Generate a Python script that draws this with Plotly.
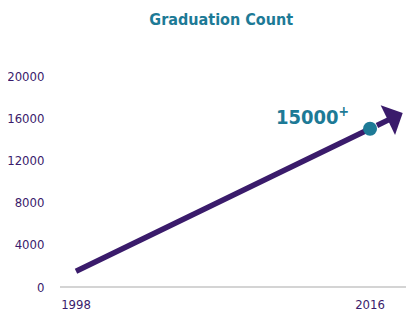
import plotly.graph_objects as go

years = [1998, 2016]
counts = [1500, 15000]
arrow_tip_year = 2018
arrow_tip_count = 16500
y_ticks = [0, 4000, 8000, 12000, 16000, 20000]
y_tick_text = ["0", "4000", "8000", "12000", "16000", "20000"]
x_ticks = [1998, 2016]
label_text = "15000<sup>+</sup>"

PURPLE = "#3a1b6b"
TEAL = "#1d7a96"
FONT = "DejaVu Sans Condensed, Liberation Sans Narrow, Arial Narrow, sans-serif"

fig = go.Figure()
fig.add_trace(go.Scatter(x=years, y=counts, mode="lines",
                         line=dict(color=PURPLE, width=5.5), hoverinfo="skip"))
fig.add_annotation(x=arrow_tip_year, y=arrow_tip_count, ax=years[-1], ay=counts[-1],
                   xref="x", yref="y", axref="x", ayref="y", showarrow=True,
                   arrowhead=1, arrowsize=1.0, arrowwidth=5.5, arrowcolor=PURPLE,
                   startstandoff=6, text="")
fig.add_trace(go.Scatter(x=[years[-1]], y=[counts[-1]], mode="markers",
                         marker=dict(color=TEAL, size=14), hoverinfo="skip"))
fig.add_annotation(x=years[-1], y=counts[-1], xref="x", yref="y", text=label_text,
                   showarrow=False, xanchor="right", yanchor="bottom", xshift=-19, yshift=-2,
                   font=dict(family=FONT, size=20, color=TEAL, weight="bold"))

fig.update_layout(
    width=414, height=313,
    margin=dict(l=52, r=9, t=52, b=34),
    paper_bgcolor="white", plot_bgcolor="white",
    showlegend=False,
    title=dict(text="<b>Graduation Count</b>", x=0.515, xanchor="center", y=0.965, yanchor="middle",
               font=dict(family=FONT, size=16, color=TEAL)),
    xaxis=dict(range=[1997.02, 2018.63], tickvals=x_ticks, showgrid=False, zeroline=False,
               showline=False, ticks="outside", ticklen=5, tickcolor="rgba(0,0,0,0)",
               automargin=False, tickfont=dict(family=FONT, size=13, color=PURPLE)),
    yaxis=dict(range=[0, 21517], tickvals=y_ticks, ticktext=y_tick_text, showgrid=False,
               zeroline=True, zerolinecolor="#d4d4d4", zerolinewidth=2, showline=False,
               ticks="outside", ticklen=12, tickcolor="rgba(0,0,0,0)", automargin=False,
               tickfont=dict(family=FONT, size=13, color=PURPLE)),
)
fig.write_html("out.html")
